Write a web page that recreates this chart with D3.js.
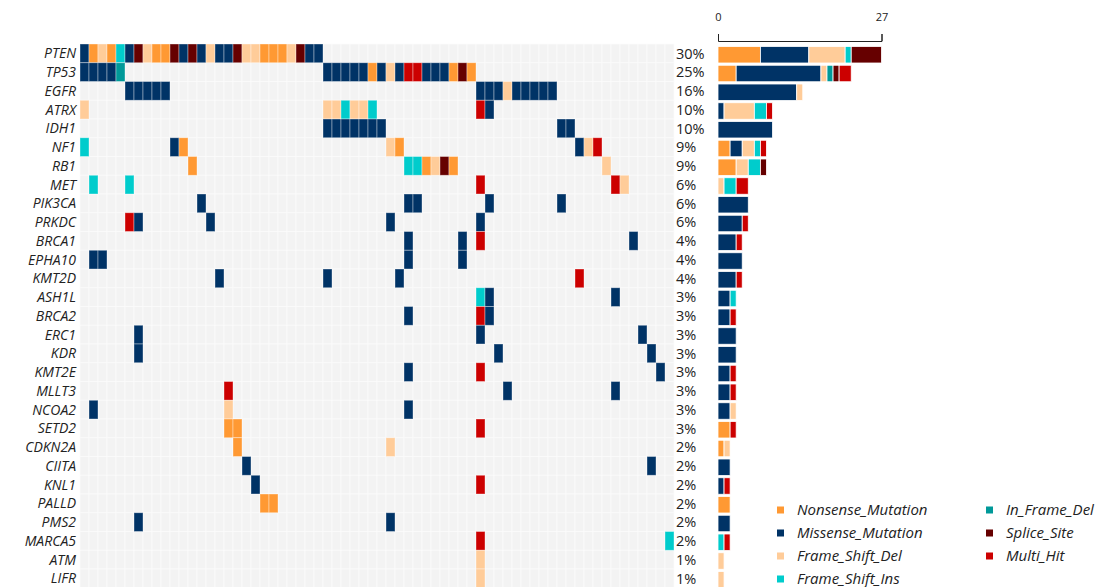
<!DOCTYPE html>
<html>
<head>
<meta charset="utf-8">
<script src="https://cdn.jsdelivr.net/npm/d3@7"></script>
<style>
  body { margin: 0; background: #fff; }
  text { font-family: "Open Sans", sans-serif; fill: #222; }
</style>
</head>
<body>
<div id="my_dataviz"></div>
<script>
// genes, top to bottom
const genes = ["PTEN","TP53","EGFR","ATRX","IDH1","NF1","RB1","MET","PIK3CA","PRKDC",
  "BRCA1","EPHA10","KMT2D","ASH1L","BRCA2","ERC1","KDR","KMT2E","MLLT3","NCOA2",
  "SETD2","CDKN2A","CIITA","KNL1","PALLD","PMS2","MARCA5","ATM","LIFR"]
const pctLabels = ["30%","25%","16%","10%","10%","9%","9%","6%","6%","6%",
  "4%","4%","4%","3%","3%","3%","3%","3%","3%","3%",
  "3%","2%","2%","2%","2%","2%","2%","1%","1%"]

// sample index + variant code, one string per gene
// N=Nonsense M=Missense D=FS_Del I=FS_Ins F=In_Frame_Del S=Splice H=Multi_Hit
const hits = [
  "0M 1N 2D 3N 4I 5M 6S 7D 8N 9N 10S 11M 12S 13M 14D 15M 16M 17S 18D 19D 20N 21N 22N 23D 24S 25M 26M",
  "0M 1M 2M 3M 4F 27M 28M 29M 30M 31M 32N 33M 34D 35M 36H 37H 38M 39M 40M 41N 42S 43N",
  "5M 6M 7M 8M 9M 44M 45M 46M 47D 48M 49M 50M 51M 52M",
  "0D 27D 28D 29I 30D 31D 32I 44H 45M",
  "27M 28M 29M 30M 31M 32M 33M 53M 54M",
  "0I 10M 11N 34D 35N 55M 56D 57H",
  "12N 36I 37I 38N 39D 40S 41N 58D",
  "1I 5I 44H 59H 60D",
  "13M 36M 37M 45M 53M",
  "5H 6M 14M 34M 44M",
  "36M 42M 44H 61M",
  "1M 2M 36M 42M",
  "15M 27M 35M 55H",
  "44I 45M 59M",
  "36M 44H 45M",
  "6M 44M 62M",
  "6M 46M 63M",
  "36M 44H 64M",
  "16H 47M 59M",
  "1M 16D 36M",
  "16N 17N 44H",
  "17N 34D",
  "18M 63M",
  "19M 44H",
  "20N 21N",
  "6M 34M",
  "44H 65I",
  "44D",
  "44D"
]
const nSamples = 66

const types = ["N","M","D","I","F","S","H"]
const typeNames = ["Nonsense_Mutation","Missense_Mutation","Frame_Shift_Del","Frame_Shift_Ins",
  "In_Frame_Del","Splice_Site","Multi_Hit"]
const typeColors = ["#ff9933","#003366","#ffcc99","#00cccc","#009999","#660000","#cc0000"]
const axisTicks = [0, 27]

var svg = d3.select("#my_dataviz").append("svg")
  .attr("width", 1106)
  .attr("height", 587)

var color = d3.scaleOrdinal().domain(types).range(typeColors)

// parse the hit strings
var cells = []
hits.forEach(function(s, gi) {
  s.split(" ").forEach(function(tok) {
    cells.push({ gene: genes[gi], sample: +tok.slice(0, -1), type: tok.slice(-1) })
  })
})

var xs = d3.scaleBand().domain(d3.range(nSamples)).range([80, 80 + nSamples * 9])
var ys = d3.scaleBand().domain(genes).range([44, 44 + genes.length * 18.75])

// background grid
var bg = []
genes.forEach(function(g) { d3.range(nSamples).forEach(function(i) { bg.push({ gene: g, sample: i }) }) })
svg.append("g").selectAll("rect")
  .data(bg)
  .enter()
  .append("rect")
  .attr("x", d => xs(d.sample))
  .attr("y", d => ys(d.gene))
  .attr("width", xs.bandwidth())
  .attr("height", ys.bandwidth())
  .style("fill", "#f3f3f3")
  .style("stroke", "#fbfbfb")
  .style("stroke-width", 0.7)

// mutated cells
svg.append("g").selectAll("rect")
  .data(cells)
  .enter()
  .append("rect")
  .attr("x", d => xs(d.sample))
  .attr("y", d => ys(d.gene))
  .attr("width", xs.bandwidth())
  .attr("height", ys.bandwidth())
  .style("fill", d => color(d.type))
  .style("stroke", "#ffffff")
  .style("stroke-opacity", 0.45)
  .style("stroke-width", 0.8)

// gene labels
svg.append("g").selectAll("text")
  .data(genes)
  .enter()
  .append("text")
  .attr("x", 76)
  .attr("y", d => ys(d) + ys.bandwidth() / 2)
  .attr("dy", "0.36em")
  .attr("text-anchor", "end")
  .style("font-size", "14px")
  .style("font-style", "italic")
  .text(d => d)

// percent labels
svg.append("g").selectAll("text")
  .data(pctLabels)
  .enter()
  .append("text")
  .attr("x", 676)
  .attr("y", (d, i) => ys(genes[i]) + ys.bandwidth() / 2)
  .attr("dy", "0.36em")
  .style("font-size", "14.5px")
  .text(d => d)

// right bar chart: stacked counts per gene
var counts = genes.map(function(g) {
  var row = { gene: g }
  types.forEach(t => row[t] = 0)
  cells.filter(c => c.gene == g).forEach(c => row[c.type] += 1)
  return row
})
var stacked = d3.stack().keys(types)(counts)
var bx = d3.scaleLinear().domain([0, d3.max(axisTicks)]).range([718, 881.5])

svg.append("g").selectAll("g")
  .data(stacked)
  .enter()
  .append("g")
  .style("fill", d => color(d.key))
  .selectAll("rect")
  .data(d => d.filter(v => v[1] > v[0]))
  .enter()
  .append("rect")
  .attr("x", d => bx(d[0]))
  .attr("y", d => ys(d.data.gene) + 2.5)
  .attr("width", d => bx(d[1]) - bx(d[0]))
  .attr("height", 16.5)
  .style("stroke", "#ffffff")
  .style("stroke-width", 0.8)

var axis = svg.append("g")
  .attr("transform", "translate(0,41)")
  .call(d3.axisTop(bx).tickValues(axisTicks).tickSize(7).tickSizeOuter(7).tickPadding(13))
axis.selectAll("text").style("font-size", "11px").style("fill", "#222")
axis.selectAll("path,line").style("stroke", "#222")

// legend
var legend = svg.append("g").selectAll("g")
  .data(typeNames)
  .enter()
  .append("g")
  .attr("transform", (d, i) => "translate(" + (i < 4 ? 777 : 986) + "," + (510 + (i % 4) * 23) + ")")
legend.append("rect")
  .attr("x", 0)
  .attr("y", -3.5)
  .attr("width", 7)
  .attr("height", 7)
  .style("fill", (d, i) => typeColors[i])
legend.append("text")
  .attr("x", 20)
  .attr("dy", "0.36em")
  .style("font-size", "15px")
  .style("font-style", "italic")
  .text(d => d)
</script>
</body>
</html>
